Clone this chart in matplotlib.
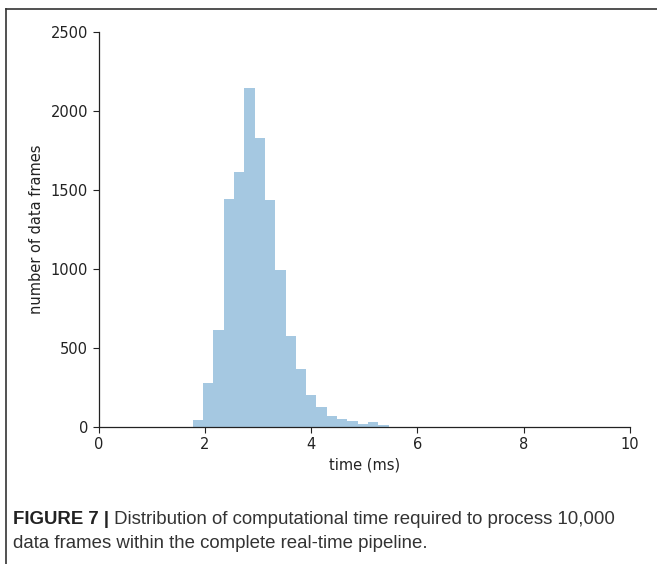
import matplotlib
matplotlib.use("Agg")
import matplotlib.pyplot as plt
from matplotlib.lines import Line2D
import numpy as np

# Histogram data
bin_start = 1.772
bin_width = 0.1941
counts = [47, 279, 612, 1442, 1615, 2143, 1826, 1436, 992, 576,
          365, 203, 127, 68, 51, 40, 21, 30, 11]
x_ticks = [0, 2, 4, 6, 8, 10]
y_ticks = [0, 500, 1000, 1500, 2000, 2500]
x_label = "time (ms)"
y_label = "number of data frames"
caption_bold = "FIGURE 7 |"
caption_line1 = " Distribution of computational time required to process 10,000"
caption_line2 = "data frames within the complete real-time pipeline."

W, H = 657, 564
fig = plt.figure(figsize=(W / 100, H / 100), dpi=100)
ax = fig.add_axes([98.5 / W, (H - 427) / H, (630 - 98.5) / W, (427 - 32) / H])

edges = bin_start + bin_width * np.arange(len(counts) + 1)
ax.hist(edges[:-1] + bin_width / 2, bins=edges, weights=counts,
        color="#1f77b4", alpha=0.4, linewidth=0)

ax.set_xlim(0, 10)
ax.set_ylim(0, 2500)
ax.set_xticks(x_ticks)
ax.set_yticks(y_ticks)
ax.tick_params(labelsize=10.5, length=4, width=0.8, color="#222222", labelcolor="#222222")
for s in ["top", "right"]:
    ax.spines[s].set_visible(False)
for s in ["left", "bottom"]:
    ax.spines[s].set_color("#222222")
    ax.spines[s].set_linewidth(0.9)
ax.set_xlabel(x_label, fontsize=10.5, color="#222222", labelpad=4)
ax.set_ylabel(y_label, fontsize=10.5, color="#222222", labelpad=5)

# Figure frame (top and left lines)
fig.add_artist(Line2D([6 / W, 1.0], [1 - 9 / H, 1 - 9 / H], transform=fig.transFigure,
                      color="#333333", linewidth=1.2))
fig.add_artist(Line2D([6 / W, 6 / W], [0.0, 1 - 9 / H], transform=fig.transFigure,
                      color="#333333", linewidth=1.2))

# Caption
cap_font = "Liberation Sans"
fs = 13.4
t = fig.text(13 / W, 1 - 520 / H, caption_bold, fontsize=fs, fontweight="bold",
             family=cap_font, color="#222222", va="center", ha="left")
fig.canvas.draw()
bb = t.get_window_extent()
fig.text(bb.x1 / W, 1 - 520 / H, caption_line1, fontsize=fs, family=cap_font,
         color="#333333", va="center", ha="left")
fig.text(13 / W, 1 - 544 / H, caption_line2, fontsize=fs, family=cap_font,
         color="#333333", va="center", ha="left")

fig.savefig("out.png", dpi=100)
